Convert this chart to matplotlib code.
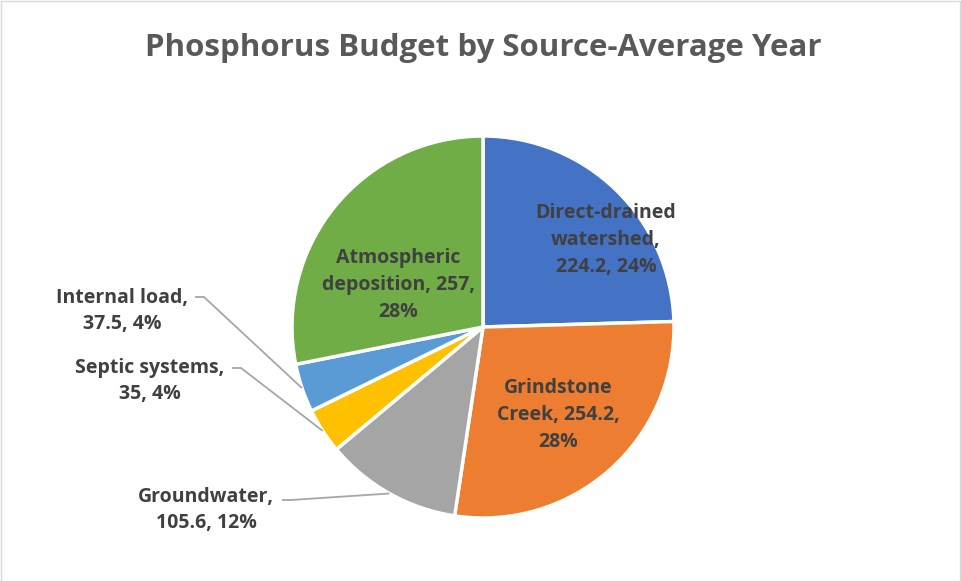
"""Phosphorus budget pie chart (Excel-style), rebuilt in matplotlib."""
import numpy as np
import matplotlib.pyplot as plt
from matplotlib.patches import Rectangle

W, H = 961, 581

SOURCES = ["Direct-drained\nwatershed,", "Grindstone\nCreek,", "Groundwater,",
           "Septic systems,", "Internal load,", "Atmospheric\ndeposition,"]
LOADS = [224.2, 254.2, 105.6, 35, 37.5, 257]
PCT_LABELS = ["24%", "28%", "12%", "4%", "4%", "28%"]
COLORS = ["#4472C4", "#ED7D31", "#A5A5A5", "#FFC000", "#5B9BD5", "#70AD47"]

TITLE = "Phosphorus Budget by Source-Average Year"
TEXT_C = "#404040"
FONT = ["Open Sans", "DejaVu Sans"]

plt.rcParams["font.family"] = FONT

fig = plt.figure(figsize=(W / 100, H / 100), dpi=100, facecolor="white")
ax = fig.add_axes([0, 0, 1, 1])


def py(y):
    # picture y (top-down) -> axes y (bottom-up)
    return H - y


cx, cy, R = 483, 327, 191
wedges, _ = ax.pie(LOADS, colors=COLORS, startangle=90, counterclock=False,
                   center=(cx, py(cy)), radius=R, frame=True,
                   wedgeprops=dict(edgecolor="white", linewidth=2.5))
ax.set_xlim(0, W)
ax.set_ylim(0, H)
ax.set_aspect("equal")
ax.axis("off")

labels = [
    "Direct-drained\nwatershed,\n224.2, 24%",
    "Grindstone\nCreek, 254.2,\n28%",
    "Groundwater,\n105.6, 12%",
    "Septic systems,\n35, 4%",
    "Internal load,\n37.5, 4%",
    "Atmospheric\ndeposition, 257,\n28%",
]

# label anchor (centre) positions in picture pixels
label_pos = [(606, 240), (558, 415), (206, 510), (150, 381), (122, 311), (398, 285)]
outside = [False, False, True, True, True, False]
# start of the leader line (end of the first label line)
leader_start = [None, None, (282, 500), (232, 368), (195, 297), None]

for i, (txt, (lx, ly)) in enumerate(zip(labels, label_pos)):
    ax.text(lx, py(ly), txt, ha="center", va="center", fontsize=14,
            fontweight="bold", color=TEXT_C, linespacing=1.45)
    if outside[i]:
        w = wedges[i]
        ang = np.deg2rad((w.theta1 + w.theta2) / 2)
        ex = cx + R * np.cos(ang)
        ey = py(cy) + R * np.sin(ang)
        sx, sy = leader_start[i]
        ax.plot([sx, sx + 9, ex], [py(sy), py(sy), ey], color="#A6A6A6",
                linewidth=1.3, solid_capstyle="butt")

ax.text(W / 2 + 3, py(48), TITLE, ha="center", va="center", fontsize=22.5,
        fontweight="bold", color="#595959")

ax.add_patch(Rectangle((0.5, 0.5), W - 1.5, H - 1.5, fill=False,
                       edgecolor="#D9D9D9", linewidth=1))

fig.savefig("out.png", dpi=100, facecolor="white")
